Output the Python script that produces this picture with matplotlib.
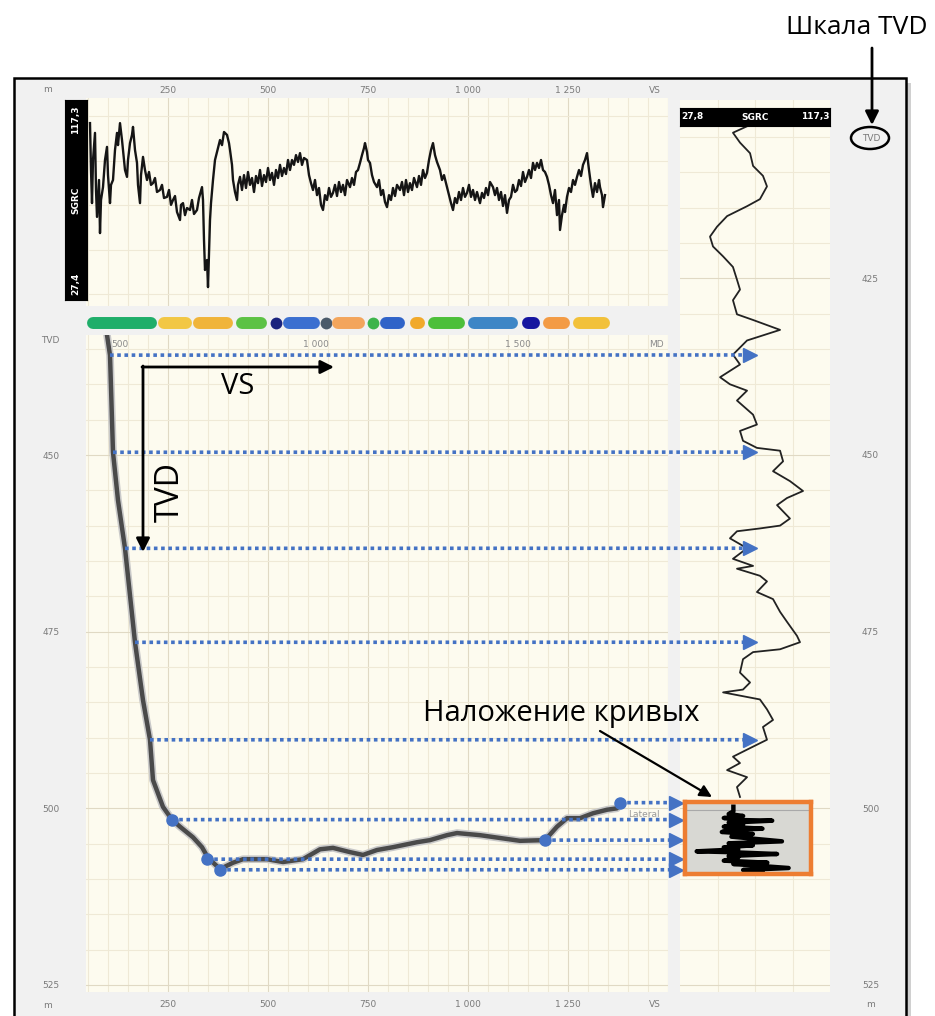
import numpy as np
import matplotlib.pyplot as plt
from matplotlib.patches import Rectangle, Ellipse, ConnectionPatch
import matplotlib.patheffects as pe

plt.rcParams['font.family'] = ['DejaVu Sans']

# ---- data ----
# gamma log along the section (VS, m  ->  SGRC)
top_log = [
    (55, 107.0), (57.5, 85.9), (60, 71.0), (62.5, 90.4), (67.5, 102.6), (70, 76.9), (72.5, 64.8), (77.5, 81.4), (80, 57.5), (82.5, 72.4),
    (87.5, 78.2), (92.5, 90.4), (97.5, 96.3), (100, 83.6), (105, 71.0), (107.5, 79.2), (112.5, 81.4), (117.5, 94.9), (122.5, 102.6), (125, 97.1),
    (130, 107.0), (135, 99.4), (137.5, 94.9), (142.5, 85.9), (147.5, 82.8), (150, 90.4), (155, 98.0), (160, 101.7), (162.5, 105.3), (167.5, 94.9),
    (172.5, 89.1), (175, 79.2), (180, 71.0), (182.5, 83.6), (187.5, 91.8), (192.5, 85.9), (197.5, 81.4), (202.5, 85.0), (207.5, 79.2), (212.5, 80.0),
    (217.5, 82.3), (222.5, 76.0), (230, 76.9), (235, 79.2), (240, 73.3), (247.5, 73.8), (252.5, 76.9), (257.5, 70.2), (262.5, 72.4), (267.5, 74.2),
    (272.5, 67.0), (280, 63.4), (282.5, 70.2), (287.5, 71.0), (292.5, 65.6), (297.5, 68.8), (305, 67.9), (310, 72.4), (315, 66.1), (322.5, 67.9),
    (327.5, 73.3), (335, 78.2), (337.5, 72.4), (340, 54.4), (342.5, 40.9), (347.5, 45.4), (350, 33.2), (352.5, 47.6), (355, 63.4), (357.5, 71.0),
    (362.5, 81.4), (367.5, 90.4), (372.5, 94.0), (380, 99.4), (385, 97.1), (390, 103.0), (397.5, 101.7), (402.5, 98.0), (405, 94.9), (410, 88.2),
    (412.5, 81.4), (417.5, 76.0), (422.5, 72.4), (425, 79.2), (430, 82.8), (435, 76.9), (440, 83.6), (445, 77.8), (450, 85.0), (455, 79.2),
    (460, 82.3), (465, 76.0), (470, 83.2), (475, 80.0), (480, 85.9), (485, 78.7), (490, 83.6), (495, 80.5), (500, 86.8), (505, 81.4),
    (510, 84.6), (515, 79.2), (520, 85.9), (525, 82.3), (530, 88.2), (535, 83.2), (540, 86.8), (545, 84.1), (550, 90.4), (555, 85.9),
    (560, 90.4), (565, 88.2), (570, 92.6), (575, 89.5), (580, 93.5), (585, 88.2), (590, 91.3), (597.5, 90.4), (602.5, 83.6), (607.5, 80.0),
    (612.5, 76.9), (617.5, 81.4), (622.5, 74.6), (627.5, 77.8), (632.5, 70.2), (637.5, 67.9), (642.5, 74.6), (647.5, 72.4), (652.5, 77.8), (657.5, 73.8),
    (662.5, 75.6), (667.5, 79.2), (672.5, 74.2), (677.5, 80.5), (682.5, 76.0), (687.5, 79.2), (692.5, 74.6), (697.5, 81.4), (705, 78.2), (710, 82.3),
    (715, 79.2), (720, 85.0), (725, 85.9), (730, 89.1), (735, 92.6), (740, 95.8), (742.5, 98.0), (747.5, 94.0), (750, 90.4), (755, 89.1),
    (760, 83.6), (765, 80.5), (772.5, 78.2), (777.5, 81.4), (782.5, 74.6), (787.5, 76.9), (792.5, 71.5), (797.5, 69.2), (802.5, 74.6), (807.5, 72.4),
    (812.5, 77.8), (817.5, 74.2), (822.5, 79.2), (830, 76.9), (835, 80.5), (840, 74.6), (845, 81.4), (850, 76.0), (855, 80.0), (860, 76.9),
    (865, 82.3), (872.5, 78.2), (877.5, 83.2), (882.5, 79.2), (887.5, 85.9), (892.5, 82.3), (897.5, 84.6), (902.5, 90.4), (907.5, 94.9), (912.5, 98.0),
    (917.5, 92.6), (922.5, 89.5), (930, 85.9), (935, 81.4), (940, 83.6), (947.5, 78.2), (952.5, 74.6), (957.5, 71.0), (962.5, 67.9), (967.5, 73.3),
    (972.5, 71.0), (977.5, 76.0), (982.5, 72.4), (987.5, 77.8), (992.5, 73.8), (997.5, 75.6), (1002.5, 79.2), (1007.5, 73.8), (1012.5, 76.9), (1017.5, 72.4),
    (1022.5, 76.0), (1030, 71.0), (1035, 75.6), (1040, 73.3), (1045, 77.8), (1050, 74.6), (1055, 80.5), (1062.5, 78.2), (1067.5, 74.6), (1072.5, 77.8),
    (1077.5, 72.4), (1082.5, 76.0), (1087.5, 69.7), (1092.5, 74.6), (1097.5, 66.6), (1102.5, 72.4), (1107.5, 73.8), (1112.5, 79.2), (1117.5, 76.0), (1122.5, 76.9),
    (1127.5, 81.4), (1132.5, 78.7), (1137.5, 85.0), (1142.5, 80.5), (1147.5, 82.8), (1152.5, 85.9), (1157.5, 82.3), (1162.5, 89.1), (1167.5, 85.9), (1172.5, 89.1),
    (1177.5, 86.8), (1182.5, 90.4), (1187.5, 85.9), (1192.5, 85.0), (1197.5, 82.8), (1202.5, 79.2), (1207.5, 74.6), (1212.5, 71.0), (1217.5, 76.9), (1222.5, 65.6),
    (1227.5, 72.4), (1230, 58.9), (1235, 65.6), (1240, 70.2), (1242.5, 67.0), (1247.5, 73.8), (1252.5, 77.8), (1257.5, 76.0), (1262.5, 81.4), (1267.5, 79.2),
    (1272.5, 82.8), (1277.5, 85.9), (1282.5, 83.2), (1287.5, 88.2), (1292.5, 90.4), (1297.5, 93.5), (1302.5, 85.9), (1307.5, 79.2), (1312.5, 73.8), (1317.5, 80.0),
    (1322.5, 76.0), (1327.5, 81.4), (1330, 78.2), (1335, 74.6), (1337.5, 69.2), (1342.5, 74.6),
]

# well trajectory (VS, TVD)
traj = [
    (97.5, 433.0), (105, 435.85), (112.5, 449.6), (125, 456.4), (142.5, 463.2), (167.5, 476.5), (187.5, 484.7),
    (205, 490.3), (212.5, 496.0), (237.5, 499.8), (260, 501.6), (280, 502.6), (312.5, 504.1), (335, 505.5),
    (350, 507.0), (380, 508.6), (412.5, 507.7), (437.5, 507.2), (497.5, 507.2), (537.5, 507.6), (587.5, 507.2),
    (630, 505.8), (662.5, 505.6), (705, 506.2), (737.5, 506.6), (772.5, 505.9), (812.5, 505.5), (872.5, 504.8),
    (905, 504.5), (947.5, 503.8), (972.5, 503.5), (1030, 503.8), (1080, 504.2), (1130, 504.6), (1192.5, 504.5),
    (1222.5, 502.6), (1247.5, 501.4), (1280, 501.4), (1312.5, 500.7), (1347.5, 500.2), (1372.5, 500.0),
]

# offset gamma log vs TVD (right track)
right_gr = [71.4, 59.4, 63.6, 69.6, 71.4, 77.3, 79.7, 75.5, 67.8, 55.9,
            49.9, 45.7, 47.5, 53.5, 59.4, 61.8, 63.6, 59.4, 61.8, 71.4,
            87.5, 67.8, 59.4, 63.6, 51.7, 57.6, 67.8, 61.8, 71.4, 73.7,
            63.6, 65.4, 73.7, 87.5, 89.3, 83.3, 93.4, 101.2, 91.6, 85.7,
            93.4, 87.5, 75.5, 61.8, 57.6, 67.8, 59.4, 71.4, 61.8, 75.5,
            79.7, 73.7, 83.3, 87.5, 91.6, 97.6, 99.4, 87.5, 71.4, 65.4,
            63.6, 69.6, 65.4, 53.5, 75.5, 79.7, 83.3, 77.3, 79.7, 67.8,
            59.4, 63.6, 55.9, 67.8, 61.8, 63.6]
right_tvd = [403.1, 404.4, 405.8, 407.3, 409.1, 410.5, 412.0, 413.8, 414.8, 416.2,
             417.7, 419.1, 420.5, 421.9, 423.4, 425.2, 426.6, 428.1, 430.1, 430.9,
             432.3, 433.8, 435.8, 437.2, 439.0, 440.0, 440.9, 442.3, 444.3, 445.7,
             446.6, 448.0, 449.0, 449.4, 450.9, 452.3, 453.7, 455.1, 456.1, 457.1,
             459.0, 460.0, 460.4, 460.8, 461.8, 463.2, 464.7, 465.7, 466.1, 467.1,
             467.9, 469.4, 470.4, 472.2, 473.6, 475.6, 476.5, 477.5, 477.9, 478.9,
             480.8, 482.2, 483.2, 483.6, 484.6, 486.0, 487.5, 488.5, 490.3, 491.7,
             492.7, 493.6, 494.6, 495.6, 497.0, 498.4]

# overlay of curves inside the orange box (GR, TVD)
overlay = [(59.4, 499.5), (59.4, 500.2), (56.5, 500.6), (65.4, 500.9), (53.5, 501.2), (62.4, 501.5),
           (83.3, 501.6), (56.5, 501.9), (65.4, 502.2), (53.5, 502.5), (77.3, 502.8), (56.5, 503.0),
           (52.3, 503.3), (71.4, 503.6), (58.2, 504.0), (89.3, 504.7), (56.5, 505.0), (71.4, 505.3),
           (53.5, 505.6), (62.4, 505.9), (36.8, 506.2), (53.5, 506.3), (65.4, 506.4), (86.3, 506.6),
           (56.5, 506.9), (62.4, 507.1), (53.5, 507.6), (80.3, 507.9), (59.4, 508.1), (93.4, 508.7),
           (65.4, 509.0), (77.3, 509.1)]

# stratigraphic band along the section (VS from, VS to, colour)
band = [(47.5, 222.5, '#1fae6a'), (225, 310, '#f2c744'), (312.5, 412.5, '#f0b43a'),
        (420, 497.5, '#5cc245'), (510, 530, '#1a237e'), (537.5, 630, '#3b6fd0'),
        (635, 652.5, '#4a5a6a'), (660, 742.5, '#f3a55c'), (750, 772.5, '#3cb44b'),
        (780, 842.5, '#2f63c8'), (855, 892.5, '#f1a92a'), (900, 992.5, '#4cbf3a'),
        (1000, 1125, '#3d86c6'), (1135, 1180, '#1515a0'), (1187.5, 1255, '#f39b45'),
        (1262.5, 1355, '#f2c13a')]

# correlation links: trajectory point -> right track
link_vs = [105, 112.5, 142.5, 167.5, 205]
link_tvd = [435.85, 449.6, 463.2, 476.5, 490.3]
pick_vs = [1380, 260, 1192.5, 347.5, 380]
pick_tvd = [499.2, 501.6, 504.5, 507.2, 508.7]

vs_ticks = [250, 500, 750, 1000, 1250, 1467.5]
vs_labels = ['250', '500', '750', '1 000', '1 250', 'VS']
md_vs = [130, 620, 1125, 1472]
md_labels = ['500', '1 000', '1 500', 'MD']

# ---- layout ----
W, H = 935, 1016
cream = '#fdfbef'
gminor = '#efe9d6'
gmajor = '#e0d9c4'
lab = '#7a7a7a'
blue = '#4472c4'


def box(x0, y0, x1, y1):
    return [x0 / W, 1 - y1 / H, (x1 - x0) / W, (y1 - y0) / H]


def clean(ax):
    for s in ax.spines.values():
        s.set_visible(False)
    ax.tick_params(length=0, labelsize=6.5, labelcolor=lab)


fig = plt.figure(figsize=(9.35, 10.16), dpi=100)

bg = fig.add_axes([0, 0, 1, 1])
bg.set_xlim(0, W)
bg.set_ylim(H, 0)
bg.axis('off')
bg.add_patch(Rectangle((19, 83), 892, 960, fc='#d0d0d0', ec='none'))
bg.add_patch(Rectangle((14, 78), 892, 960, fc='#f1f1f1', ec='k', lw=1.8))

# top track: gamma log along VS
ax_top = fig.add_axes(box(86, 98, 668, 306))
ax_top.set_facecolor(cream)
ax_top.set_xlim(45, 1500)
ax_top.set_ylim(24.7, 118.3)
for v in np.arange(50, 1501, 50):
    ax_top.axvline(v, color=gmajor if v % 250 == 0 else gminor, lw=0.8, zorder=0)
for g in [30, 50, 70, 90, 110]:
    ax_top.axhline(g, color=gminor, lw=0.8, zorder=0)
tv, tg = np.array(top_log).T
ax_top.plot(tv, tg, color='#151515', lw=1.7)
clean(ax_top)
ax_top.xaxis.tick_top()
ax_top.set_xticks(vs_ticks)
ax_top.set_xticklabels(vs_labels)
ax_top.tick_params(axis='x', pad=2)
ax_top.set_yticks([])
ax_top.text(-52.5, 1.04, 'm', transform=ax_top.get_xaxis_transform(),
            ha='center', va='center', fontsize=6.5, color=lab, clip_on=False)

ax_lab = fig.add_axes(box(65, 100, 87, 300))
ax_lab.set_facecolor('black')
ax_lab.set_xticks([])
ax_lab.set_yticks([])
for t, y in [('117,3', 0.9), ('SGRC', 0.5), ('27,4', 0.08)]:
    ax_lab.text(0.5, y, t, rotation=90, color='white', fontsize=6.5, fontweight='bold',
                ha='center', va='center', transform=ax_lab.transAxes)

# stratigraphic band
ax_band = fig.add_axes(box(86, 314, 668, 332))
ax_band.set_xlim(45, 1500)
ax_band.set_ylim(0, 1)
ax_band.axis('off')
cap = 15
for a, b, c in band:
    if b - a <= 2 * cap:
        ax_band.plot([(a + b) / 2], [0.5], 'o', ms=8.5, color=c, mec='none')
    else:
        ax_band.plot([a + cap, b - cap], [0.5, 0.5], color=c, lw=8.6, solid_capstyle='round')

# main section: TVD vs VS
ax_main = fig.add_axes(box(86, 335, 668, 992))
ax_main.set_facecolor(cream)
ax_main.set_xlim(45, 1500)
ax_main.set_ylim(526.0, 433.0)
for v in np.arange(50, 1501, 50):
    ax_main.axvline(v, color=gmajor if v % 250 == 0 else gminor, lw=0.8, zorder=0)
for d in np.arange(435, 526, 5):
    ax_main.axhline(d, color=gmajor if d % 25 == 0 else gminor, lw=0.8, zorder=0)
xv, xt = np.array(traj).T
ax_main.plot(xv, xt, color='#4a4a4a', lw=3.2, solid_capstyle='round',
             path_effects=[pe.Stroke(linewidth=5.5, foreground='#c9c9c9'), pe.Normal()])
for x, t in zip(md_vs, md_labels):
    ax_main.text(x, 434.4, t, ha='center', va='center', fontsize=6.5, color='#8a8a8a')
ax_main.text(1440, 500.9, 'Lateral', ha='center', va='center', fontsize=6.5, color='#9a9a9a')
clean(ax_main)
ax_main.set_xticks(vs_ticks)
ax_main.set_xticklabels(vs_labels)
ax_main.tick_params(axis='x', pad=6)
ax_main.set_yticks([433.7, 450, 475, 500, 525])
ax_main.set_yticklabels(['TVD', '450', '475', '500', '525'])
ax_main.tick_params(axis='y', pad=19)
ax_main.text(-52.5, -0.02, 'm', transform=ax_main.get_xaxis_transform(),
             ha='center', va='center', fontsize=6.5, color=lab, clip_on=False)
ax_main.plot(pick_vs, pick_tvd, 'o', ms=8, color=blue, zorder=6)

# right track: gamma log vs TVD
ax_right = fig.add_axes(box(680, 100, 830, 992))
ax_right.set_facecolor(cream)
ax_right.set_xlim(27.8, 117.3)
ax_right.set_ylim(526.0, 399.77)
for g in np.linspace(27.8, 117.3, 5)[1:-1]:
    ax_right.axvline(g, color=gminor, lw=0.8, zorder=0)
for d in np.arange(405, 526, 5):
    ax_right.axhline(d, color=gmajor if d % 25 == 0 else gminor, lw=0.8, zorder=0)
ax_right.plot(right_gr, right_tvd, color='#222222', lw=1.3)
clean(ax_right)
ax_right.set_xticks([])
ax_right.yaxis.tick_right()
ax_right.set_yticks([405.1, 425, 450, 475, 500, 525])
ax_right.set_yticklabels(['TVD', '425', '450', '475', '500', '525'])
ax_right.tick_params(axis='y', pad=23)
ax_right.text(1.267, 527.8, 'm', transform=ax_right.get_yaxis_transform(),
              ha='center', va='center', fontsize=6.5, color=lab, clip_on=False)

ax_head = fig.add_axes(box(680, 108, 830, 126))
ax_head.set_facecolor('black')
ax_head.set_xticks([])
ax_head.set_yticks([])
for t, x in [('27,8', 0.08), ('SGRC', 0.5), ('117,3', 0.9)]:
    ax_head.text(x, 0.5, t, color='white', fontsize=6.5, fontweight='bold',
                 ha='center', va='center', transform=ax_head.transAxes)

# orange box with overlaid curves
ax_ins = fig.add_axes(box(685, 802, 811, 874))
ax_ins.set_facecolor('#d8d8d3')
ax_ins.set_xlim(29.6, 107.2)
ax_ins.set_ylim(509.6, 498.8)
ax_ins.axhline(500, color='#a9a9a9', lw=0.8)
ov_g, ov_t = np.array(overlay).T
ax_ins.plot(ov_g, ov_t, color='black', lw=3.2)
ax_ins.set_xticks([])
ax_ins.set_yticks([])
for s in ax_ins.spines.values():
    s.set_color('#ed7d31')
    s.set_linewidth(3.2)

# dotted correlation lines
ends_up = [69.6] * len(link_tvd)
ends_lo = [25.4] * len(pick_tvd)
for vs, tvd, ge in list(zip(link_vs, link_tvd, ends_up)) + list(zip(pick_vs, pick_tvd, ends_lo)):
    con = ConnectionPatch(xyA=(vs, tvd), coordsA=ax_main.transData,
                          xyB=(ge, tvd), coordsB=ax_right.transData,
                          color=blue, lw=2.6, linestyle=(0, (1, 1)), capstyle='butt')
    con.set_zorder(3)
    fig.add_artist(con)
ax_right.plot(ends_up, link_tvd, '>', ms=10, color=blue, clip_on=False, zorder=6)
ax_right.plot(ends_lo, pick_tvd, '>', ms=10, color=blue, clip_on=False, zorder=6)

# annotations
ov = fig.add_axes([0, 0, 1, 1], zorder=10)
ov.set_xlim(0, W)
ov.set_ylim(H, 0)
ov.axis('off')
afont = ['Open Sans', 'DejaVu Sans']
arr = dict(arrowstyle='-|>', color='black', lw=2, mutation_scale=20, shrinkA=0, shrinkB=0)
ov.text(857, 27, 'Шкала TVD', ha='center', va='center', fontsize=19, family=afont)
ov.annotate('', xy=(872, 125), xytext=(872, 48), arrowprops=arr)
ov.add_patch(Ellipse((870, 138), 38, 22, fill=False, ec='black', lw=1.8))
ov.annotate('', xy=(334, 367), xytext=(142, 367), arrowprops=arr)
ov.annotate('', xy=(143, 552), xytext=(143, 366), arrowprops=arr)
ov.text(238, 386, 'VS', ha='center', va='center', fontsize=21, family=afont)
ov.text(170, 492, 'TVD', ha='center', va='center', rotation=90, fontsize=23, family=afont)
ov.text(561, 714, 'Наложение кривых', ha='center', va='center', fontsize=21, family=afont)
ov.annotate('', xy=(712, 797), xytext=(600, 731),
            arrowprops=dict(arrowstyle='-|>', color='black', lw=1.6, mutation_scale=18,
                            shrinkA=0, shrinkB=0))

fig.savefig('out.png', dpi=100)
